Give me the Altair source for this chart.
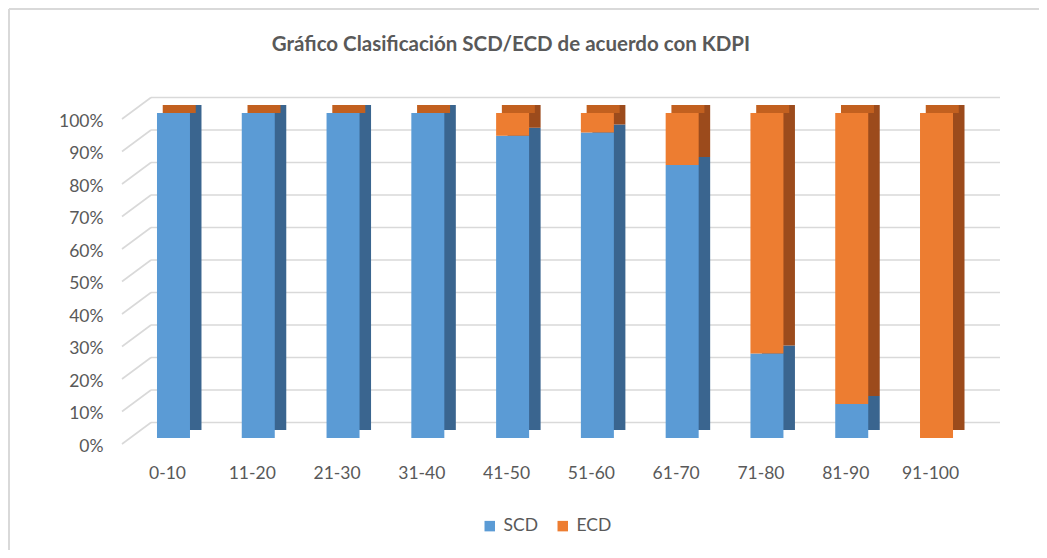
import altair as alt
import pandas as pd

categories = ["0-10", "11-20", "21-30", "31-40", "41-50", "51-60", "61-70", "71-80", "81-90", "91-100"]
series = ["SCD", "ECD"]
scd = [100, 100, 100, 100, 93, 94, 84, 26, 10.5, 0]
ecd = [0, 0, 0, 0, 7, 6, 16, 74, 89.5, 100]
y_ticks = [0, 10, 20, 30, 40, 50, 60, 70, 80, 90, 100]

front_colors = ["#5b9bd5", "#ed7d31"]
side_colors = ["#3a658f", "#9c4b1c"]
top_color = "#c2601f"
grid_color = "#d9d9d9"
text_color = "#595959"

rows = []
for i, c in enumerate(categories):
    rows.append({"category": c, "series": "SCD", "value": scd[i], "idx": 0})
    rows.append({"category": c, "series": "ECD", "value": ecd[i], "idx": 1})
df = pd.DataFrame(rows)
grid_df = pd.DataFrame({"v": y_ticks})
cat_df = pd.DataFrame({"category": categories})

W, H = 866, 325
BAR_W = 33
DX, DY = 11.5, -8

x_scale = alt.Scale(paddingInner=0, paddingOuter=0.1073)
y_scale = alt.Scale(domain=[0, 100], nice=False, zero=True)

x_axis = alt.Axis(title=None, domain=False, ticks=False, grid=False,
                  labelAngle=0, labelFontSize=17.5, labelColor=text_color, labelFont="Lato",
                  labelPadding=35, labelBaseline="middle", labelOffset=-6)
y_axis = alt.Axis(values=y_ticks, labelExpr="datum.value + '%'", title=None,
                  domain=False, ticks=False, grid=False,
                  labelFontSize=17.5, labelColor=text_color, labelFont="Lato",
                  labelPadding=19, labelOffset=8)

x_enc = alt.X("category:N", sort=categories, scale=x_scale, axis=x_axis)

# back wall gridlines
grid = alt.Chart(grid_df).mark_rule(color=grid_color, strokeWidth=1.6,
                                    yOffset=-15.5, y2Offset=-15.5).encode(
    y=alt.Y("v:Q", scale=y_scale, axis=y_axis),
    y2="v:Q",
    x=alt.value(29), x2=alt.value(878),
)
slant = alt.Chart(grid_df).transform_calculate(v2="datum.v + 6.615").mark_rule(
    color=grid_color, strokeWidth=1.6, yOffset=6, y2Offset=6).encode(
    y=alt.Y("v:Q", scale=y_scale, axis=y_axis),
    y2="v2:Q",
    x=alt.value(0), x2=alt.value(29),
)

# side faces (shifted darker bars)
back = alt.Chart(df).mark_bar(width=BAR_W, xOffset=DX, yOffset=DY, y2Offset=DY).encode(
    x=x_enc,
    y=alt.Y("value:Q", stack=True, scale=y_scale, axis=y_axis),
    color=alt.Color("series:N", scale=alt.Scale(domain=series, range=side_colors), legend=None),
    order=alt.Order("idx:Q", sort="ascending"),
)

# top faces
top = alt.Chart(cat_df).mark_tick(
    size=BAR_W, thickness=8, xOffset=DX / 2, yOffset=DY / 2, color=top_color, opacity=1).encode(
    x=x_enc,
    y=alt.datum(100, scale=y_scale, axis=y_axis),
)

# front faces
front = alt.Chart(df).mark_bar(width=BAR_W).encode(
    x=x_enc,
    y=alt.Y("value:Q", stack=True, scale=y_scale, axis=y_axis),
    color=alt.Color("series:N", scale=alt.Scale(domain=series, range=front_colors),
                    legend=alt.Legend(orient="none", legendX=359, legendY=404, direction="horizontal",
                                      title=None, symbolType="square", symbolSize=110,
                                      symbolStrokeWidth=0, labelFontSize=17.5, labelColor=text_color,
                                      labelFont="Lato", columnPadding=16, labelOffset=5)),
    order=alt.Order("idx:Q", sort="ascending"),
)

# outer chart frame (left and top edges)
frame_left = alt.Chart(cat_df).mark_rule(color=grid_color, strokeWidth=2).encode(
    x=alt.value(-113), y=alt.value(-104), y2=alt.value(437))
frame_top = alt.Chart(cat_df).mark_rule(color=grid_color, strokeWidth=2).encode(
    x=alt.value(-113), x2=alt.value(917), y=alt.value(-104))

chart = alt.layer(frame_left, frame_top, grid, slant, back, top, front).resolve_scale(
    color="independent"
).properties(
    width=W, height=H,
    background="white",
    autosize=alt.AutoSizeParams(type="none"),
    padding={"left": 114, "top": 105, "right": 51, "bottom": 112},
    title=alt.TitleParams(text="Gráfico Clasificación SCD/ECD de acuerdo con KDPI",
                          font="Lato", fontSize=20.5, fontWeight="bold", color=text_color,
                          anchor="middle", dx=-44, offset=0, dy=47),
).configure_view(stroke=None).configure_axis(grid=False)

chart.save("out.html", embed_options={"renderer": "svg", "actions": False})
